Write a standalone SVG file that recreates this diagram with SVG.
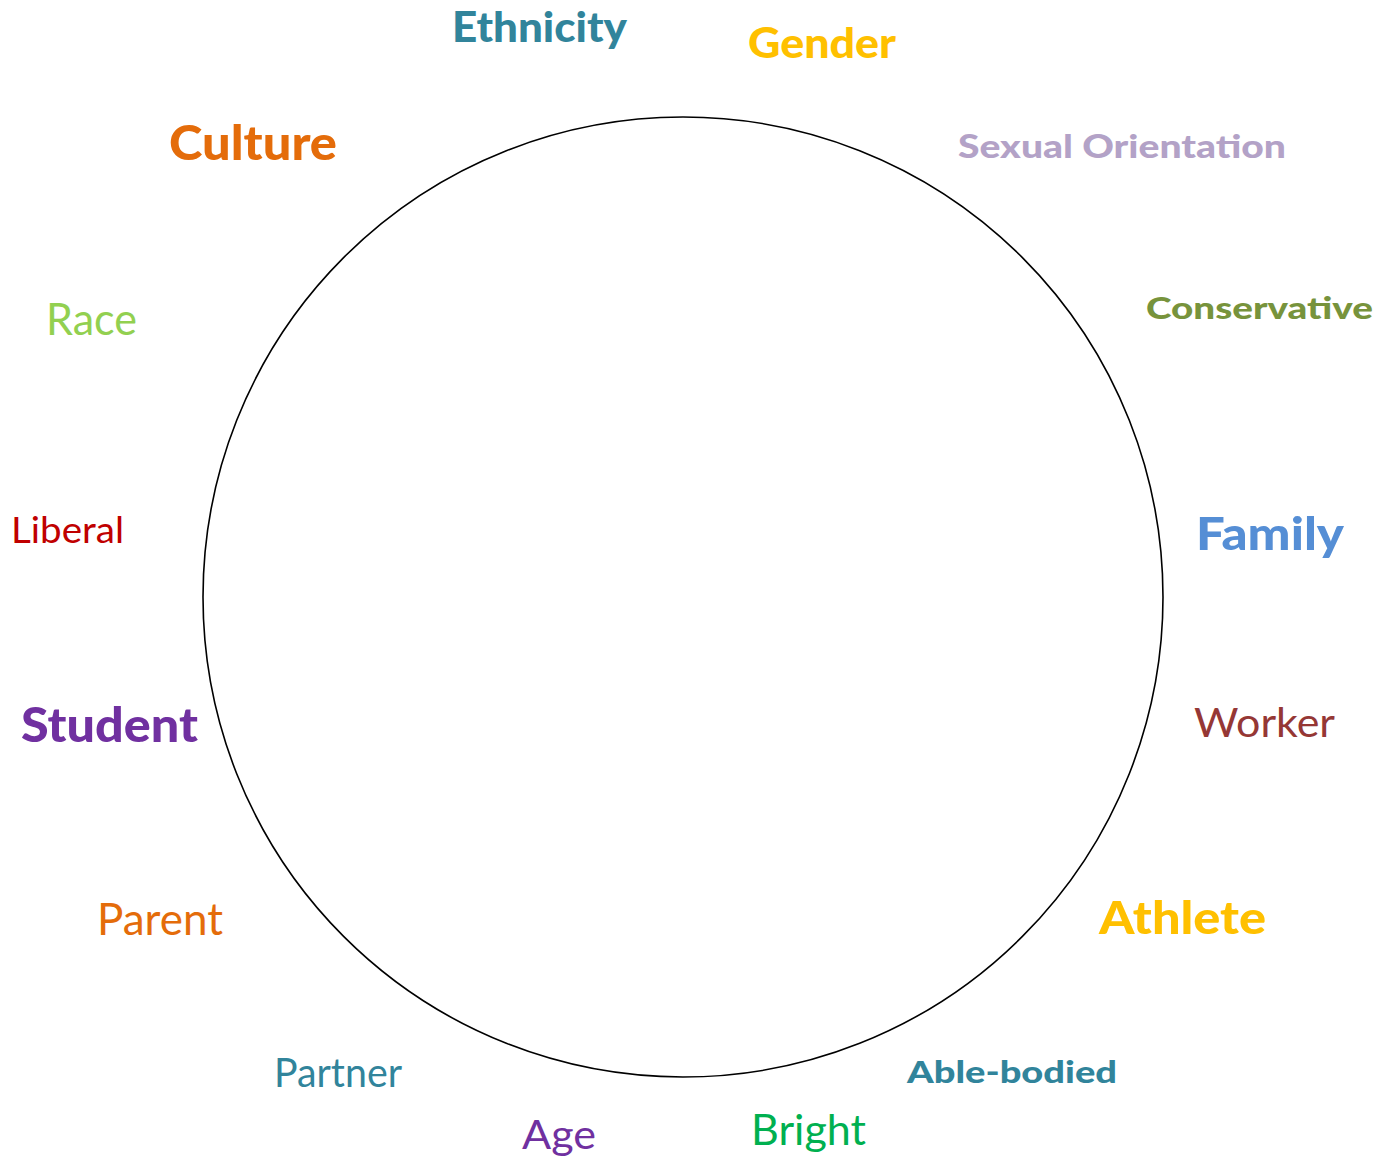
<svg xmlns="http://www.w3.org/2000/svg" width="1393" height="1165" viewBox="0 0 1393 1165">
  <style>
    text { font-family: Lato, "Open Sans", "Liberation Sans", sans-serif; }
    .b { font-weight: 900; }
    .r { font-weight: 400; }
  </style>
  <rect width="1393" height="1165" fill="#ffffff"/>
  <g id="ring">
    <circle cx="683" cy="597" r="480" fill="none" stroke="#000000" stroke-width="1.6"/>
  </g>
  <g id="labels">
    <g id="ethnicity"><text class="b" x="452" y="42" font-size="42" fill="#31849B" textLength="175" lengthAdjust="spacingAndGlyphs">Ethnicity</text></g>
    <g id="gender"><text class="b" x="748" y="58" font-size="42" fill="#FFC000" textLength="148" lengthAdjust="spacingAndGlyphs">Gender</text></g>
    <g id="culture"><text class="b" x="169" y="160" font-size="48" fill="#E46C0A" textLength="168" lengthAdjust="spacingAndGlyphs">Culture</text></g>
    <g id="sexual-orientation"><text class="b" x="958" y="158" font-size="32" fill="#B3A2C7" textLength="328" lengthAdjust="spacingAndGlyphs">Sexual Orientation</text></g>
    <g id="conservative"><text class="b" x="1146" y="319" font-size="31" fill="#77933C" textLength="227" lengthAdjust="spacingAndGlyphs">Conservative</text></g>
    <g id="race"><text class="r" x="46" y="335" font-size="44" fill="#92D050" textLength="91" lengthAdjust="spacingAndGlyphs">Race</text></g>
    <g id="liberal"><text class="r" x="11" y="543" font-size="36" fill="#C00000" textLength="113" lengthAdjust="spacingAndGlyphs">Liberal</text></g>
    <g id="family"><text class="b" x="1196" y="550" font-size="46" fill="#558ED5" textLength="148" lengthAdjust="spacingAndGlyphs">Family</text></g>
    <g id="worker"><text class="r" x="1194" y="737" font-size="40" fill="#953735" textLength="141" lengthAdjust="spacingAndGlyphs">Worker</text></g>
    <g id="student"><text class="b" x="21" y="742" font-size="47" fill="#7030A0" textLength="177" lengthAdjust="spacingAndGlyphs">Student</text></g>
    <g id="parent"><text class="r" x="97" y="935" font-size="44" fill="#E46C0A" textLength="126" lengthAdjust="spacingAndGlyphs">Parent</text></g>
    <g id="athlete"><text class="b" x="1099" y="934" font-size="46" fill="#FFC000" textLength="167" lengthAdjust="spacingAndGlyphs">Athlete</text></g>
    <g id="partner"><text class="r" x="274" y="1087" font-size="40" fill="#31849B" textLength="128" lengthAdjust="spacingAndGlyphs">Partner</text></g>
    <g id="able-bodied"><text class="b" x="907" y="1083" font-size="31" fill="#31849B" textLength="210" lengthAdjust="spacingAndGlyphs">Able-bodied</text></g>
    <g id="age"><text class="r" x="522" y="1149" font-size="40" fill="#7030A0" textLength="74" lengthAdjust="spacingAndGlyphs">Age</text></g>
    <g id="bright"><text class="r" x="751" y="1145" font-size="42" fill="#00B050" textLength="115" lengthAdjust="spacingAndGlyphs">Bright</text></g>
  </g>
</svg>
